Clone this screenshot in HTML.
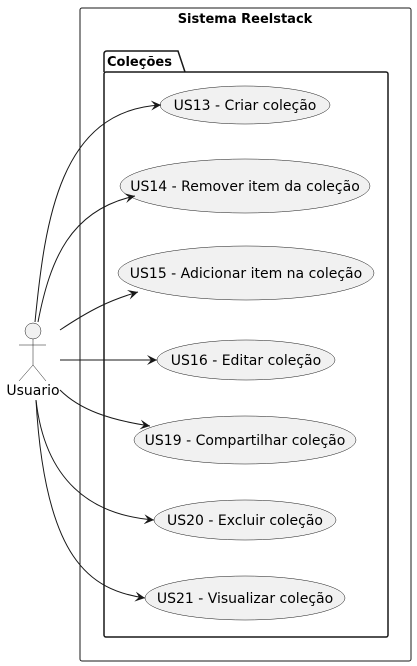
<!DOCTYPE html>
<html><head><style>body{margin:0;background:#fff}svg{display:block}</style></head><body>
<svg width="417" height="666" xmlns="http://www.w3.org/2000/svg" font-family="DejaVu Sans, sans-serif">
<defs><marker id="a" viewBox="0 0 10 10" refX="10" refY="5" markerWidth="10" markerHeight="10" orient="auto" markerUnits="userSpaceOnUse"><path d="M0,0 L10,5 L0,10 L4,5 Z" fill="#181818"/></marker></defs>
<rect x="80" y="8" width="331" height="653" rx="2" fill="none" stroke="#181818"/>
<text x="245" y="23" text-anchor="middle" font-size="13" font-weight="bold">Sistema Reelstack</text>
<path d="M104,72 L104,54 Q104,51 107,51 L178,51 L185,72" fill="none" stroke="#181818" stroke-width="1.5"/>
<rect x="104" y="72" width="284" height="565" rx="2" fill="none" stroke="#181818" stroke-width="1.5"/>
<text x="107" y="66" font-size="13" font-weight="bold">Coleções</text>
<g fill="#f1f1f1" stroke="#181818" stroke-width="0.5">
<ellipse cx="245" cy="105" rx="85" ry="19"/>
<ellipse cx="245" cy="186" rx="125" ry="27"/>
<ellipse cx="246" cy="273" rx="128" ry="27"/>
<ellipse cx="246" cy="360" rx="89" ry="20"/>
<ellipse cx="245" cy="440" rx="111" ry="24"/>
<ellipse cx="245" cy="520" rx="91" ry="20"/>
<ellipse cx="245" cy="598" rx="100" ry="22"/>
</g>
<g font-size="14" text-anchor="middle" fill="#000">
<text x="245" y="110">US13 - Criar coleção</text>
<text x="245" y="191">US14 - Remover item da coleção</text>
<text x="246" y="278">US15 - Adicionar item na coleção</text>
<text x="246" y="365">US16 - Editar coleção</text>
<text x="245" y="445">US19 - Compartilhar coleção</text>
<text x="245" y="525">US20 - Excluir coleção</text>
<text x="245" y="603">US21 - Visualizar coleção</text>
</g>
<g fill="none" stroke="#181818" stroke-width="1">
<circle cx="33" cy="331" r="8" fill="#f1f1f1" stroke-width="0.5"/>
<path d="M33,339 V365 M19,345 H46 M19,381 L33,365 L46,381" stroke-width="0.5"/>
</g>
<text x="33" y="395" text-anchor="middle" font-size="14">Usuario</text>
<g fill="none" stroke="#181818" stroke-width="1" marker-end="url(#a)">
<path d="M35,322 C45,220 60,110 161,105"/>
<path d="M38,322 C50,260 70,210 135,196"/>
<path d="M60,330 C90,310 110,300 138,292"/>
<path d="M60,360 L157,360"/>
<path d="M60,390 C80,410 110,420 150,426"/>
<path d="M36,400 C45,480 90,515 154,520"/>
<path d="M36,400 C45,560 90,590 145,598"/>
</g>
</svg>
</body></html>
